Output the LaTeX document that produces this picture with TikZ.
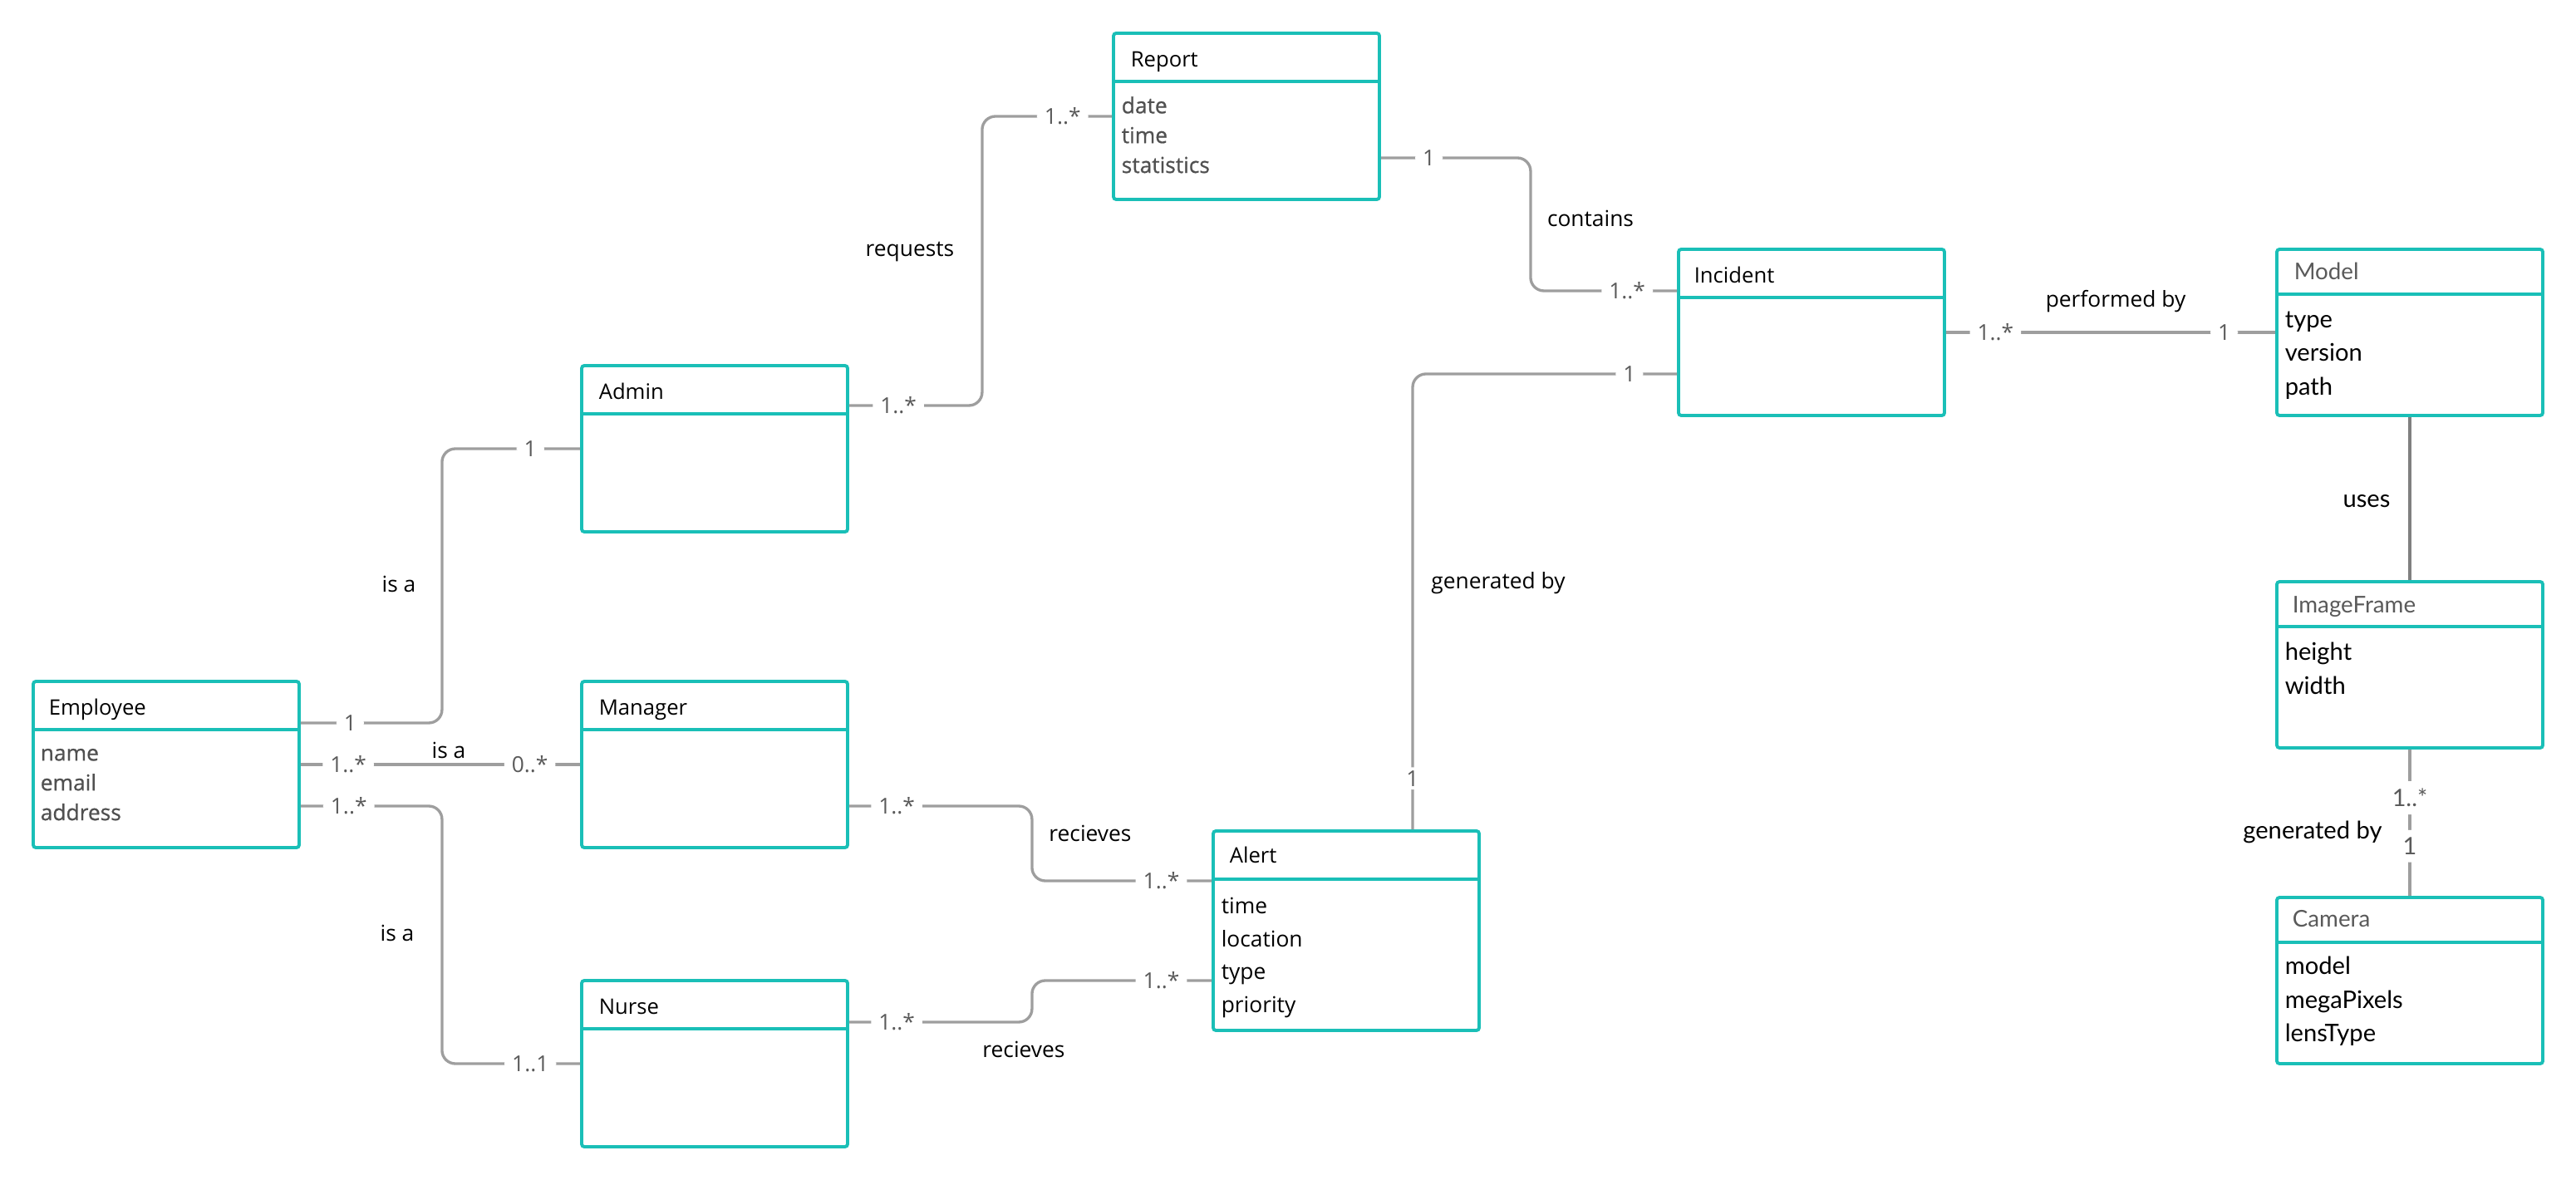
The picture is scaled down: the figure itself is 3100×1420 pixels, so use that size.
\documentclass[tikz,border=0pt]{standalone}
\usepackage{fontspec}
\setmainfont{Open Sans}
\newfontfamily\latofont{Lato}
\newfontfamily\semifont{Open Sans}[FakeBold=0.7]

\definecolor{tealline}{RGB}{26,191,183}
\definecolor{linkgray}{RGB}{158,158,158}
\definecolor{usesgray}{RGB}{128,128,128}
\definecolor{multgray}{RGB}{90,90,90}
\definecolor{attrgray}{RGB}{80,80,80}

\begin{document}
\begin{tikzpicture}[x=0.1mm, y=-0.1mm,
  cls/.style = {draw=tealline, line width=1.1pt, rounded corners=0.9pt, fill=white,
                minimum width=32mm, minimum height=20mm, inner sep=0pt},
  tall/.style = {minimum height=24mm},
  split/.style = {draw=tealline, line width=1.1pt},
  title/.style = {anchor=base west, inner sep=0pt, font=\fontsize{7.3}{9}\selectfont},
  ltitle/.style = {anchor=base west, inner sep=0pt, text=multgray, font=\latofont\fontsize{7.9}{9}\selectfont},
  attr/.style = {anchor=base west, inner sep=0pt, align=left, text=attrgray, font=\semifont\fontsize{7.5}{10.2}\selectfont},
  battr/.style = {anchor=base west, inner sep=0pt, align=left, font=\fontsize{7.5}{11.2}\selectfont},
  lattr/.style = {anchor=base west, inner sep=0pt, align=left, font=\latofont\fontsize{8.3}{11.4}\selectfont},
  conn/.style = {draw=linkgray, line width=0.95pt, rounded corners=1.6mm},
  mult/.style = {fill=white, text=multgray, inner xsep=0.9mm, inner ysep=0.4mm, font=\fontsize{7.5}{9}\selectfont},
  lmult/.style = {fill=white, text=multgray, inner xsep=0.9mm, inner ysep=0.9mm, font=\latofont\fontsize{8.2}{9}\selectfont},
  rel/.style = {inner sep=0pt, font=\fontsize{7.5}{9}\selectfont},
  lrel/.style = {inner sep=0pt, font=\latofont\fontsize{8.3}{9}\selectfont},
  ]
  \useasboundingbox (0,0) rectangle (3100,1420);

  % classes (attribute nodes sit on the baseline of their last line)
  \node[cls] (report) at (1500,140) {};
  \draw[split] ([yshift=-6mm]report.north west) -- ([yshift=-6mm]report.north east);
  \node[title] (report-title) at ([xshift=2.2mm, yshift=-4.2mm]report.north west) {Report};
  \node[attr] (report-attr) at ([xshift=1.1mm, yshift=-17mm]report.north west) {date\\time\\statistics};

  \node[cls] (incident) at (2180,400) {};
  \draw[split] ([yshift=-6mm]incident.north west) -- ([yshift=-6mm]incident.north east);
  \node[title] (incident-title) at ([xshift=2mm, yshift=-4.2mm]incident.north west) {Incident};

  \node[cls] (admin) at (860,540) {};
  \draw[split] ([yshift=-6mm]admin.north west) -- ([yshift=-6mm]admin.north east);
  \node[title] (admin-title) at ([xshift=2.2mm, yshift=-4.2mm]admin.north west) {Admin};

  \node[cls] (employee) at (200,920) {};
  \draw[split] ([yshift=-6mm]employee.north west) -- ([yshift=-6mm]employee.north east);
  \node[title] (employee-title) at ([xshift=2mm, yshift=-4.2mm]employee.north west) {Employee};
  \node[attr] (employee-attr) at ([xshift=1mm, yshift=-16.9mm]employee.north west) {name\\email\\address};

  \node[cls] (manager) at (860,920) {};
  \draw[split] ([yshift=-6mm]manager.north west) -- ([yshift=-6mm]manager.north east);
  \node[title] (manager-title) at ([xshift=2.2mm, yshift=-4.2mm]manager.north west) {Manager};

  \node[cls] (nurse) at (860,1280) {};
  \draw[split] ([yshift=-6mm]nurse.north west) -- ([yshift=-6mm]nurse.north east);
  \node[title] (nurse-title) at ([xshift=2.2mm, yshift=-4.2mm]nurse.north west) {Nurse};

  \node[cls, tall] (alert) at (1620,1120) {};
  \draw[split] ([yshift=-6mm]alert.north west) -- ([yshift=-6mm]alert.north east);
  \node[title] (alert-title) at ([xshift=2.1mm, yshift=-4mm]alert.north west) {Alert};
  \node[battr] (alert-attr) at ([xshift=1.1mm, yshift=-22mm]alert.north west) {time\\location\\type\\priority};

  \node[cls] (model) at (2900,400) {};
  \draw[split] ([yshift=-5.6mm]model.north west) -- ([yshift=-5.6mm]model.north east);
  \node[ltitle] (model-title) at ([xshift=2.2mm, yshift=-3.8mm]model.north west) {Model};
  \node[lattr] (model-attr) at ([xshift=1.1mm, yshift=-17.7mm]model.north west) {type\\version\\path};

  \node[cls] (imgframe) at (2900,800) {};
  \draw[split] ([yshift=-5.6mm]imgframe.north west) -- ([yshift=-5.6mm]imgframe.north east);
  \node[ltitle] (imgframe-title) at ([xshift=2mm, yshift=-3.9mm]imgframe.north west) {ImageFrame};
  \node[lattr] (imgframe-attr) at ([xshift=1.1mm, yshift=-13.7mm]imgframe.north west) {height\\width};

  \node[cls] (camera) at (2900,1180) {};
  \draw[split] ([yshift=-5.6mm]camera.north west) -- ([yshift=-5.6mm]camera.north east);
  \node[ltitle] (camera-title) at ([xshift=2mm, yshift=-3.7mm]camera.north west) {Camera};
  \node[lattr] (camera-attr) at ([xshift=1.1mm, yshift=-17.5mm]camera.north west) {model\\megaPixels\\lensType};

  % associations
  \draw[conn] ([yshift=5.2mm]admin.east) -- node[mult, pos=0.37] (m-admin-rep) {1..*} ++(160,0)
    |- node[mult, pos=0.81] (m-rep-admin) {1..*} (report.west);
  \draw[conn] ([yshift=-5mm]report.east) -- node[mult, pos=0.32] (m-rep-inc) {1} ++(180,0)
    |- node[mult, pos=0.83] (m-inc-rep) {1..*} ([yshift=5mm]incident.west);
  \draw[conn] (incident.east) -- node[mult, pos=0.15] (m-inc-model) {1..*}
    node[mult, pos=0.845] (m-model-inc) {1} (model.west);
  \draw[conn] ([yshift=-5mm]incident.west) -| node[mult, pos=0.09] (m-inc-alert) {1}
    node[mult, pos=0.944] (m-alert-inc) {1} ([xshift=8mm]alert.north);
  \draw[conn, draw=usesgray] (model.south) -- (imgframe.north);
  \draw[conn] (imgframe.south) -- node[lmult, pos=0.33] (m-img-cam) {1..*}
    node[lmult, pos=0.66] (m-cam-img) {1} (camera.north);
  \draw[conn] ([yshift=5mm]employee.east) -- node[mult, pos=0.35] (m-emp-admin) {1} ++(170,0)
    |- node[mult, pos=0.82] (m-admin-emp) {1} (admin.west);
  \draw[conn] (employee.east) -- node[mult, pos=0.17] (m-emp-man) {1..*}
    node[mult, pos=0.82] (m-man-emp) {0..*} (manager.west);
  \draw[conn] ([yshift=-5mm]employee.east) -- node[mult, pos=0.34] (m-emp-nurse) {1..*} ++(170,0)
    |- node[mult, pos=0.82] (m-nurse-emp) {1..1} (nurse.west);
  \draw[conn] ([yshift=-5mm]manager.east) -- node[mult, pos=0.26] (m-man-alert) {1..*} ++(220,0)
    |- node[mult, pos=0.86] (m-alert-man) {1..*} ([yshift=6mm]alert.west);
  \draw[conn] ([yshift=5mm]nurse.east) -- node[mult, pos=0.26] (m-nurse-alert) {1..*} ++(220,0)
    |- node[mult, pos=0.86] (m-alert-nurse) {1..*} ([yshift=-6mm]alert.west);

  % association names
  \node[rel] (requests) at (1095,303) {requests};
  \node[rel] (contains) at (1914,263) {contains};
  \node[rel] (performed) at (2546,363) {performed by};
  \node[rel] (gen-alert) at (1803,702) {generated by};
  \node[lrel] (uses) at (2848,603) {uses};
  \node[lrel] (gen-camera) at (2783,1001) {generated by};
  \node[rel] (isa-admin) at (480,703) {is a};
  \node[rel] (isa-manager) at (540,903) {is a};
  \node[rel] (isa-nurse) at (478,1123) {is a};
  \node[rel] (rec-manager) at (1312,1003) {recieves};
  \node[rel] (rec-nurse) at (1232,1263) {recieves};
\end{tikzpicture}
\end{document}
